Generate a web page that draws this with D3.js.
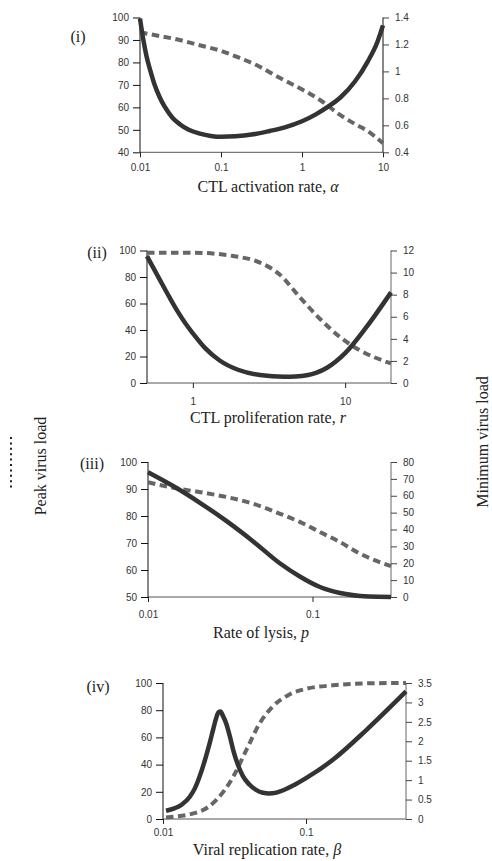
<!DOCTYPE html>
<html><head><meta charset="utf-8">
<script src="https://cdn.jsdelivr.net/npm/d3@7"></script>
<style>
html,body{margin:0;padding:0;background:#fff;}
svg{display:block;}
.tick text{font-family:"Liberation Sans",Arial,sans-serif;font-size:10px;fill:#333;}
.ttl{font-family:"Liberation Serif","Times New Roman",serif;font-size:16px;fill:#222;}
</style></head>
<body>
<script>
// ---------- data ----------
const alphaX = [0.01,0.011,0.012,0.0135,0.015,0.0175,0.02,0.025,0.031,0.04,0.055,0.075,0.1,0.15,0.25,0.4,0.6,1,1.5,2.1,3,4.5,6.5,8.5,10];
const alphaPeak = [99.5,90,83,76,70.5,64.5,60.5,55.5,52.5,50,48.3,47.3,46.9,47.1,48,49.5,51,53.8,57,60.3,64.5,71.5,80.5,89,96.5];
const alphaMinX = [0.01,0.015,0.031,0.05,0.098,0.17,0.3,0.5,0.94,1.67,2.95,4.5,6.2,10];
const alphaMin = [1.29,1.27,1.233,1.2,1.154,1.1,1.035,0.96,0.875,0.788,0.677,0.61,0.565,0.467];

const rX = [0.5,0.6,0.7,0.8,0.9,1.0,1.2,1.5,2,2.76,4,4.7,5.6,6.5,7.6,10,13.9,20];
const rPeak = [95.7,79,65,53.5,44.5,37.5,26.5,17,9.8,6.0,4.7,4.9,5.8,7.8,11.5,22.5,42.7,68.4];
const rMinX = [0.5,1,1.84,2.76,3.7,5.05,6.85,9.25,12.5,20];
const rMin = [11.8,11.8,11.5,10.9,9.85,7.75,5.8,4.16,2.96,1.77];

const pX = [0.01,0.0143,0.0208,0.0302,0.0438,0.0636,0.0842,0.111,0.147,0.195,0.25,0.3];
const pPeak = [96.2,91.0,84.8,78.0,70.5,62.4,57.5,53.7,51.5,50.4,50.05,50];
const pMinX = [0.01,0.0143,0.0208,0.0302,0.0438,0.0636,0.0842,0.111,0.147,0.195,0.3];
const pMin = [68,64.7,62.1,59.2,55.2,49.3,44.4,38.5,32.5,25.6,18.3];

const bX = [0.0105,0.012,0.0135,0.0154,0.0167,0.018,0.0196,0.0212,0.0225,0.0235,0.0244,0.0252,0.0262,0.0277,0.0293,0.031,0.0335,0.0362,0.04,0.045,0.05,0.055,0.062,0.07,0.08,0.1,0.154,0.265,0.5];
const bPeak = [6.1,7.8,10.5,16.4,22.5,31,43,55.8,66.5,74,78.5,79,76,70,61,50.5,39.5,31.5,25.5,21.2,19.3,18.8,19.4,21.3,24.2,30,43.5,65.6,93.8];
const bMinX = [0.0105,0.018,0.0236,0.031,0.0383,0.0474,0.0587,0.076,0.1,0.154,0.25,0.5];
const bMin = [0.04,0.19,0.49,1.09,1.78,2.46,2.9,3.2,3.35,3.44,3.49,3.5];

const xTitles = ["CTL activation rate, ", "CTL proliferation rate, ", "Rate of lysis, ", "Viral replication rate, "];
const xSymbols = ["\u03B1","r","p","\u03B2"];
const panelLabels = ["(i)","(ii)","(iii)","(iv)"];
const xDomains = [[0.01,10],[0.5,20],[0.01,0.3],[0.01,0.5]];
const xTicks = [[0.01,0.1,1,10],[1,10],[0.01,0.1],[0.01,0.1]];
const leftDomains = [[40,100],[0,100],[50,100],[0,100]];
const leftTicks = [[40,50,60,70,80,90,100],[0,20,40,60,80,100],[50,60,70,80,90,100],[0,20,40,60,80,100]];
const rightDomains = [[0.4,1.4],[0,12],[0,80],[0,3.5]];
const rightTicks = [[0.4,0.6,0.8,1,1.2,1.4],[0,2,4,6,8,10,12],[0,10,20,30,40,50,60,70,80],[0,0.5,1,1.5,2,2.5,3,3.5]];
const yLabelLeft = "Peak virus load";
const yLabelRight = "Minimum virus load";

const series = [
  {px:alphaX, py:alphaPeak, mx:alphaMinX, my:alphaMin},
  {px:rX, py:rPeak, mx:rMinX, my:rMin},
  {px:pX, py:pPeak, mx:pMinX, my:pMin},
  {px:bX, py:bPeak, mx:bMinX, my:bMin}
];

// ---------- layout ----------
const W = 492, H = 861;
const layout = [
  {l:140, r:383, t:17.5, b:152.3, lab:[78,42], ttlY:192, ttlX:268, xlabY:12},
  {l:147, r:391, t:250.5, b:383, lab:[97,258], ttlY:423, ttlX:268, xlabY:15},
  {l:148, r:391, t:462, b:597, lab:[92,469], ttlY:638, ttlX:261, xlabY:14},
  {l:163, r:406, t:683, b:819, lab:[98,692], ttlY:855, ttlX:267, xlabY:10}
];

const svg = d3.select("body").append("svg").attr("width",W).attr("height",H);

const fmtRight = d => String(+d.toFixed(2));

layout.forEach((L,i)=>{
  const g = svg.append("g");
  const x = d3.scaleLog().domain(xDomains[i]).range([L.l,L.r]);
  const yl = d3.scaleLinear().domain(leftDomains[i]).range([L.b,L.t]);
  const yr = d3.scaleLinear().domain(rightDomains[i]).range([L.b,L.t]);

  const xa = g.append("g").attr("transform",`translate(0,${L.b})`)
    .call(d3.axisBottom(x).tickValues(xTicks[i]).tickSize(5).tickPadding(L.xlabY-5).tickFormat(d=>String(d)));
  xa.select(".domain").attr("stroke","#555").attr("d",`M${L.l},0H${L.r}`);
  xa.selectAll(".tick line").attr("stroke","#222");

  const la = g.append("g").attr("transform",`translate(${L.l},0)`)
    .call(d3.axisLeft(yl).tickValues(leftTicks[i]).tickSize(7).tickPadding(4).tickFormat(d=>String(d)));
  la.select(".domain").attr("stroke","#111").attr("d",`M0,${L.b}V${L.t}`);
  la.selectAll(".tick line").attr("stroke","#111");

  const ra = g.append("g").attr("transform",`translate(${L.r},0)`)
    .call(d3.axisRight(yr).tickValues(rightTicks[i]).tickSize(6).tickPadding(6).tickFormat(fmtRight));
  ra.select(".domain").attr("stroke", i===0 ? "#111" : "#666").attr("d",`M0,${L.b}V${L.t}`);
  ra.selectAll(".tick line").attr("stroke","#444");

  const s = series[i];
  const lineP = d3.line().x(d=>x(d[0])).y(d=>yl(d[1])).curve(d3.curveMonotoneX);
  const lineM = d3.line().x(d=>x(d[0])).y(d=>yr(d[1])).curve(d3.curveMonotoneX);

  g.append("path").attr("d", lineM(d3.zip(s.mx,s.my)))
    .attr("fill","none").attr("stroke","#666").attr("stroke-width",4)
    .attr("stroke-dasharray","7.5,4.5");
  g.append("path").attr("d", lineP(d3.zip(s.px,s.py)))
    .attr("fill","none").attr("stroke","#333").attr("stroke-width",4.5)
    .attr("stroke-linejoin","round");

  g.append("text").attr("class","ttl").attr("x",L.lab[0]).attr("y",L.lab[1])
    .attr("text-anchor","middle").text(panelLabels[i]);
  const t = g.append("text").attr("class","ttl").attr("x",L.ttlX).attr("y",L.ttlY).attr("text-anchor","middle");
  t.append("tspan").text(xTitles[i]);
  t.append("tspan").attr("font-style","italic").text(xSymbols[i]);
});

svg.append("text").attr("class","ttl")
  .attr("transform","translate(46,466) rotate(-90)").attr("text-anchor","middle").text(yLabelLeft);
svg.append("text").attr("class","ttl")
  .attr("transform","translate(488,442) rotate(-90)").attr("text-anchor","middle").text(yLabelRight);
svg.append("line").attr("x1",11).attr("x2",11).attr("y1",437).attr("y2",490)
  .attr("stroke","#222").attr("stroke-width",2).attr("stroke-dasharray","2,3.4");
</script>
</body></html>
